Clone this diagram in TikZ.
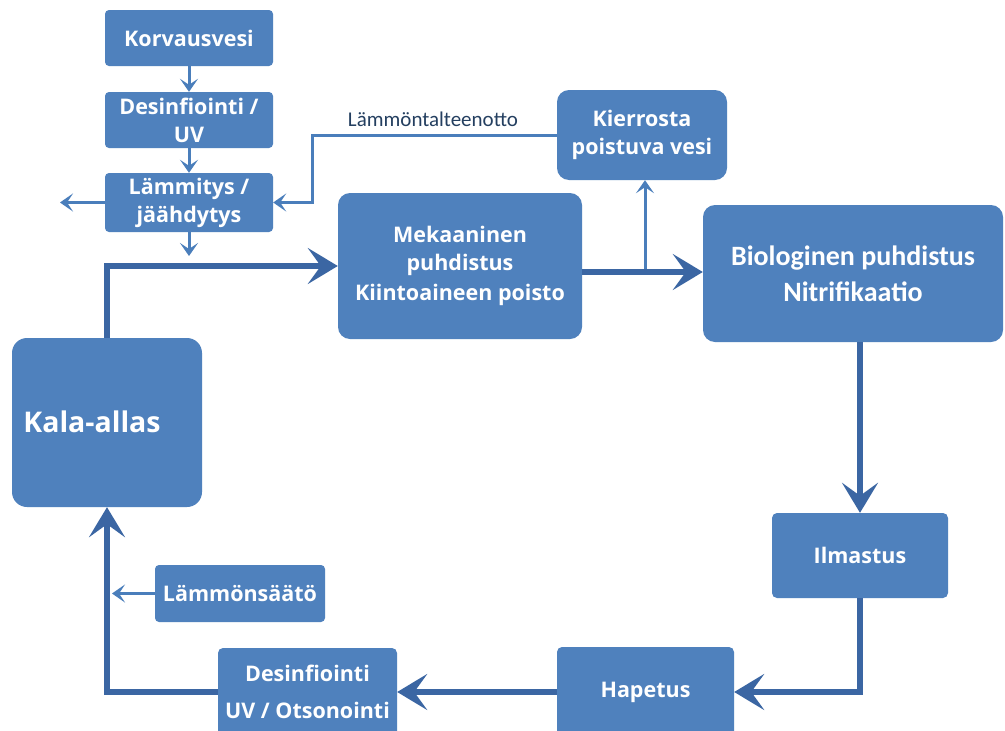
\documentclass[tikz,border=0pt]{standalone}
\usepackage{fontspec}
\setmainfont{Open Sans}
\newfontfamily\calib{Carlito}
\usetikzlibrary{arrows.meta}
\definecolor{boxblue}{HTML}{4F81BD}
\definecolor{linkblue}{HTML}{3B66A3}
\definecolor{thinblue}{HTML}{4A7EBB}
\definecolor{labeldark}{HTML}{243F60}
\begin{document}
\begin{tikzpicture}[x=1pt,y=-1pt,
  box/.style={fill=boxblue, draw=none, rounded corners=#1, text=white, inner sep=0pt,
    font=\bfseries\fontsize{21.5}{28}\selectfont, align=center},
  box/.default=4pt,
  thickarr/.style={draw=linkblue, line width=6pt, -{Stealth[length=30pt,width=36pt,inset=13pt]}},
  thinarr/.style={draw=thinblue, line width=3pt, -{Stealth[length=13pt,width=18pt,inset=6pt]}},
  lbl/.style={text=labeldark, font=\calib\fontsize{21}{24}\selectfont, inner sep=0pt}
]
\clip (0,0) rectangle (1005,731);
\fill[white] (0,0) rectangle (1005,731);

% boxes
\node[box, minimum width=168pt, minimum height=56pt] (korv) at (189,38) {Korvausvesi};
\node[box, minimum width=168pt, minimum height=56pt] (desuv) at (189,120) {Desinfiointi /\\UV};
\node[box, minimum width=168pt, minimum height=59pt] (lamm) at (189,202.5) {Lämmitys /\\jäähdytys};
\node[box=12pt, minimum width=170pt, minimum height=90pt] (kier) at (642,135) {Kierrosta\\poistuva vesi};
\node[box=12pt, minimum width=244pt, minimum height=146pt] (mek) at (460,266) {Mekaaninen\\puhdistus\\[2pt]Kiintoaineen poisto};
\node[box=12pt, minimum width=300pt, minimum height=137pt, font=\calib\bfseries\fontsize{28}{36}\selectfont] (bio) at (853,273.5) {Biologinen puhdistus\\Nitrifikaatio};
\node[box=15pt, minimum width=190pt, minimum height=169pt] (kala) at (107,422.5) {};
\node[text=white, font=\bfseries\fontsize{28.5}{32}\selectfont, inner sep=0pt] (kalat) at (92,422) {Kala-allas};
\node[box=5pt, minimum width=176pt, minimum height=85pt] (ilm) at (860,555.5) {Ilmastus};
\node[box=5pt, minimum width=177pt, minimum height=90pt] (hap) at (645.5,692) {Hapetus};
\node[box=5pt, minimum width=179pt, minimum height=88pt, font=\bfseries\fontsize{21.5}{37}\selectfont] (des2) at (307.5,692) {Desinfiointi\\UV / Otsonointi};
\node[box=4pt, minimum width=170pt, minimum height=57pt] (lams) at (240,593.5) {Lämmönsäätö};

% coordinates
\coordinate (lammout) at (189,256);
\coordinate (lamleft) at (60,202.5);
\coordinate (bend) at (312,202.5);
\coordinate (split) at (645,272);
\coordinate (lamsout) at (112,593.5);

% thin connectors
\draw[thinarr] (korv) -- (desuv);
\draw[thinarr] (desuv) -- (lamm);
\draw[thinarr] (lamm.south) -- (lammout);
\draw[thinarr] (lamm.west) -- (lamleft);
\draw[thinarr] (kier.west) -| (bend) -- (lamm.east);
\node[lbl] (lbllabel) at (433,119) {Lämmöntalteenotto};
\draw[thinarr] (split) -- (split |- kier.south);
\draw[thinarr] (lams.west) -- (lamsout);

% thick connectors
\draw[thickarr] (kala.north) |- (mek.west);
\draw[thickarr] (mek.east |- split) -- (bio.west |- split);
\draw[thickarr] (ilm.north |- bio.south) -- (ilm.north);
\draw[thickarr] (ilm.south) |- (hap.east);
\draw[thickarr] (hap.west) -- (des2.east);
\draw[thickarr] (des2.west) -| (kala.south);
\end{tikzpicture}
\end{document}
